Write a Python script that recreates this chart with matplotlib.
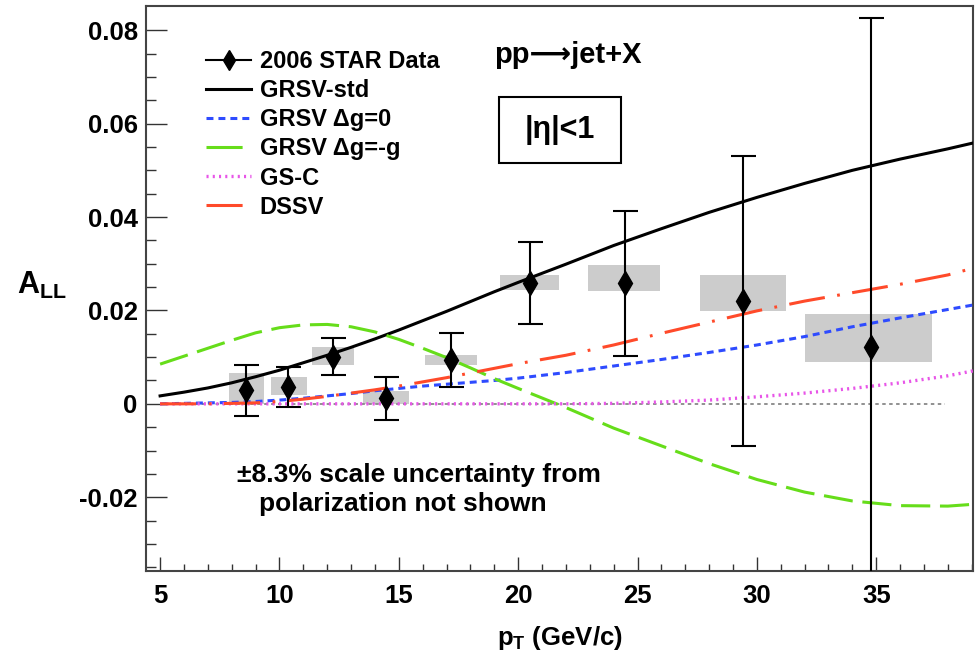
import numpy as np
import matplotlib
matplotlib.use("Agg")
import matplotlib.pyplot as plt
from matplotlib.lines import Line2D
from matplotlib.patches import Rectangle

plt.rcParams['font.family'] = ['Liberation Sans', 'DejaVu Sans']
plt.rcParams['font.weight'] = 'bold'
plt.rcParams['mathtext.fontset'] = 'custom'
plt.rcParams['mathtext.rm'] = 'Liberation Sans:bold'
plt.rcParams['mathtext.bf'] = 'Liberation Sans:bold'
plt.rcParams['axes.unicode_minus'] = False
plt.rcParams['lines.scale_dashes'] = False

# 2006 STAR inclusive jet A_LL
pt = [8.59, 10.37, 12.23, 14.46, 17.18, 20.48, 24.46, 29.41, 34.79]
a_ll = [0.0029, 0.0036, 0.0101, 0.0012, 0.0094, 0.0258, 0.0258, 0.0220, 0.0122]
stat_err = [0.0054, 0.0042, 0.0040, 0.0046, 0.0058, 0.0088, 0.0155, 0.0310, 0.0705]

# systematic boxes
box_x_lo = [7.89, 9.63, 11.35, 13.51, 16.10, 19.23, 22.92, 27.62, 32.03]
box_x_hi = [9.35, 11.14, 13.12, 15.43, 18.29, 21.71, 25.96, 31.22, 37.33]
box_y_lo = [0.0000, 0.0019, 0.0083, 0.0000, 0.0083, 0.0244, 0.0242, 0.0199, 0.0089]
box_y_hi = [0.0065, 0.0057, 0.0121, 0.0028, 0.0104, 0.0275, 0.0297, 0.0276, 0.0192]

# theory curves
pt_th = [5, 6, 7, 8, 9, 10, 11, 12, 13, 14, 15, 16, 17, 18, 19, 20,
         22, 24, 26, 28, 30, 32, 34, 36, 38, 39.1]
grsv_std = [0.0017, 0.0025, 0.0034, 0.0045, 0.0058, 0.0072, 0.0088, 0.0104, 0.0121,
            0.0139, 0.0158, 0.0178, 0.0198, 0.0219, 0.0240, 0.0260,
            0.0299, 0.0339, 0.0375, 0.0410, 0.0442, 0.0472, 0.0500, 0.0524, 0.0546, 0.0559]
grsv_zero = [0.0, 0.0001, 0.0002, 0.0003, 0.0005, 0.0008, 0.0012, 0.0017, 0.0022,
             0.0028, 0.0033, 0.0038, 0.0042, 0.0046, 0.0050, 0.0055,
             0.0067, 0.0081, 0.0095, 0.0110, 0.0126, 0.0144, 0.0165, 0.0184, 0.0202, 0.0212]
grsv_minus = [0.0085, 0.0102, 0.0119, 0.0136, 0.0152, 0.0163, 0.0169, 0.0170, 0.0165,
              0.0154, 0.0138, 0.0119, 0.0099, 0.0077, 0.0054, 0.0033,
              -0.0008, -0.0052, -0.0090, -0.0128, -0.0162, -0.0189, -0.0208, -0.0218, -0.0219, -0.0215]
gs_c = [0.0, 0.0, 0.0, 0.0, 0.0, 0.0, 0.0, 0.0, 0.0,
        0.0, 0.0, 0.0, 0.0, 0.0, 0.0, 0.0,
        0.0, 0.0001, 0.0004, 0.0008, 0.0015, 0.0023, 0.0033, 0.0045, 0.0060, 0.0071]
dssv = [0.0, 0.0, 0.0, 0.0001, 0.0002, 0.0005, 0.0010, 0.0016, 0.0023,
        0.0030, 0.0038, 0.0047, 0.0056, 0.0066, 0.0076, 0.0086,
        0.0104, 0.0126, 0.0151, 0.0175, 0.0199, 0.0220, 0.0238, 0.0256, 0.0276, 0.0291]

fig = plt.figure(figsize=(9.78, 6.59), dpi=100)
ax = fig.add_axes([0.1493, 0.1335, 0.8455, 0.8575])

ax.bar(box_x_lo, np.array(box_y_hi) - np.array(box_y_lo),
       width=np.array(box_x_hi) - np.array(box_x_lo), bottom=box_y_lo,
       align='edge', color='#cccccc', lw=0, zorder=1)

ax.plot([5, 37.9], [0, 0], color='#888888', lw=1.3, dashes=(2.5, 2.5), zorder=2)

ax.plot(pt_th, grsv_std, color='black', lw=2.2, zorder=3)
ax.plot(pt_th, grsv_zero, color='#2e4bff', lw=2.2, dashes=(5, 3.6), zorder=3)
ax.plot(pt_th, grsv_minus, color='#66dd1a', lw=2.2, dashes=(21, 7), zorder=3)
ax.plot(pt_th, gs_c, color='#e855e8', lw=2.4, dashes=(1.5, 3), zorder=3)
ax.plot(pt_th, dssv, color='#ff4a2a', lw=2.2, dashes=(26, 9, 2, 9), zorder=3)

ax.errorbar(pt, a_ll, yerr=stat_err, fmt='d', color='black', ms=12,
            elinewidth=1.5, capsize=9, capthick=1.5, zorder=5)

ax.set_xlim(4.41, 39.05)
ax.set_ylim(-0.0358, 0.0852)
ax.set_xticks([5, 10, 15, 20, 25, 30, 35])
ax.set_xticks(np.arange(5, 40, 1), minor=True)
yt = [-0.02, 0, 0.02, 0.04, 0.06, 0.08]
ax.set_yticks(yt)
ax.set_yticklabels(['-0.02', '0', '0.02', '0.04', '0.06', '0.08'])
ax.set_yticks(np.arange(-0.035, 0.085, 0.005), minor=True)
ax.tick_params(axis='both', which='both', direction='in', labelsize=18.5,
               top=False, right=False, width=1, color='#333333')
ax.tick_params(axis='y', which='major', length=15, pad=6)
ax.tick_params(axis='y', which='minor', length=7.5)
ax.tick_params(axis='x', which='major', length=10, pad=9)
ax.tick_params(axis='x', which='minor', length=5)
for lab in ax.get_xticklabels() + ax.get_yticklabels():
    lab.set_fontweight('bold')
for sp in ax.spines.values():
    sp.set_linewidth(1.5)
    sp.set_color('#444444')

handles = [
    Line2D([], [], color='black', marker='d', ms=10, lw=1.5),
    Line2D([], [], color='black', lw=2.2),
    Line2D([], [], color='#2e4bff', lw=2.2, dashes=(5, 3.6)),
    Line2D([], [], color='#66dd1a', lw=2.2, dashes=(26, 20)),
    Line2D([], [], color='#e855e8', lw=2.4, dashes=(1.5, 3)),
    Line2D([], [], color='#ff4a2a', lw=2.2, dashes=(26, 20)),
]
labels = ['2006 STAR Data', 'GRSV-std', 'GRSV \u0394g=0', 'GRSV \u0394g=-g', 'GS-C', 'DSSV']
ax.legend(handles, labels, loc='upper left', bbox_to_anchor=(0.073, 0.922),
          frameon=False, handlelength=1.9, handletextpad=0.35,
          labelspacing=0.26, borderpad=0, borderaxespad=0,
          prop={'weight': 'bold', 'size': 17})

# long arrow is not in Liberation Sans, falls back to DejaVu Sans
ax.text(22.1, 0.0748, 'pp\u27f6jet+X', fontsize=21, fontweight='bold',
        family=['Liberation Sans', 'DejaVu Sans'], ha='center', va='center')
ax.add_patch(Rectangle((19.18, 0.0516), 24.29 - 19.18, 0.0656 - 0.0516,
                       fill=False, lw=1.5, color='black', zorder=6))
ax.text(21.74, 0.0586, '|\u03b7|<1', fontsize=22, fontweight='bold',
        ha='center', va='center', zorder=6)

ax.text(15.86, -0.0168, '\u00b18.3% scale uncertainty from', fontsize=19,
        fontweight='bold', ha='center', va='baseline')
ax.text(15.15, -0.0230, 'polarization not shown', fontsize=19,
        fontweight='bold', ha='center', va='baseline')

fig.text(42 / 978, 1 - 285 / 659, r'$\mathbf{A}_{\mathbf{LL}}$', fontsize=22,
         ha='center', va='center')
fig.text(560 / 978, 1 - 638 / 659, r'$\mathbf{p}_{\mathbf{T}}$ (GeV/c)', fontsize=18.5,
         fontweight='bold', ha='center', va='center')

fig.savefig('out.png', dpi=100)
